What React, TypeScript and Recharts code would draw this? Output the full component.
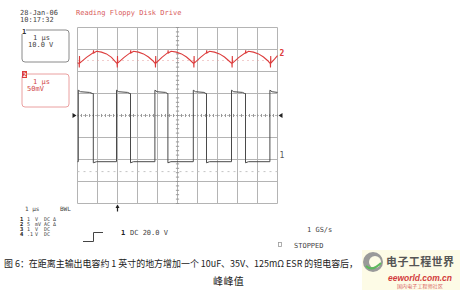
import { Line, LineChart, ReferenceDot, XAxis, YAxis } from "recharts"

// horizontal: 1 µs/div over 10 divisions; vertical: 8 divisions
const timeTicks = [0, 1, 2, 3, 4, 5, 6, 7, 8, 9, 10]
const divTicks = [-4, -3, -2, -1, 1, 2, 3, 4]
const minorTime = Array.from({ length: 51 }, (_, i) => i * 0.2)
const minorDiv = Array.from({ length: 41 }, (_, i) => -4 + i * 0.2)

// channel 1: switch node, 10 V/div
const ch1Time = [
  0, 0.04, 0.04, 0.15, 0.6, 0.75, 0.79, 0.79, 0.95, 1.95,
  1.95, 2.06, 2.5, 2.62, 2.65, 2.65, 2.8, 3.87,
  3.87, 3.98, 4.4, 4.5, 4.52, 4.52, 4.67, 5.79,
  5.79, 5.9, 6.32, 6.42, 6.45, 6.45, 6.6, 7.7,
  7.7, 7.81, 8.25, 8.36, 8.4, 8.4, 8.55, 9.62,
  9.62, 9.73, 10,
]
const ch1Volts = [
  -3, -3, 29.5, 28.8, 28.5, 28, 28, -3.5, -3, -3,
  29.5, 28.8, 28.5, 28, 28, -3.5, -3, -3,
  29.5, 28.8, 28.5, 28, 28, -3.5, -3, -3,
  29.5, 28.8, 28.5, 28, 28, -3.5, -3, -3,
  29.5, 28.8, 28.5, 28, 28, -3.5, -3, -3,
  29.5, 28.8, 28.5,
]

// channel 2: output ripple, AC coupled, 50 mV/div
const ch2Time = [
  0, 0.08, 0.09, 0.1, 0.11, 0.45, 0.79, 0.8, 0.81, 0.95, 1.2, 1.45, 1.7, 1.9, 1.98,
  1.99, 2.0, 2.01, 2.33, 2.65, 2.66, 2.67, 2.8, 3.05, 3.3, 3.55, 3.75, 3.89,
  3.9, 3.91, 3.92, 4.22, 4.52, 4.53, 4.54, 4.68, 4.95, 5.2, 5.45, 5.65, 5.81,
  5.82, 5.83, 5.84, 6.15, 6.45, 6.46, 6.47, 6.6, 6.85, 7.1, 7.35, 7.55, 7.72,
  7.73, 7.74, 7.75, 8.07, 8.4, 8.41, 8.42, 8.55, 8.8, 9.05, 9.3, 9.5, 9.64,
  9.65, 9.66, 9.67, 9.85, 10,
]
const ch2Millivolts = [
  -5, -7, -16, 10, -6, 7, 18, 23, 17, 21, 19, 15, 7, -3, -7,
  -16, 10, -6, 7, 18, 23, 17, 21, 19, 15, 8, 0, -7,
  -16, 10, -6, 7, 18, 23, 17, 21, 19, 15, 8, 0, -7,
  -16, 10, -6, 7, 18, 23, 17, 21, 19, 15, 8, 0, -7,
  -16, 10, -6, 7, 18, 23, 17, 21, 19, 15, 8, 0, -7,
  -16, 10, -6, 3, 11,
]

const channelRows = [
  ["1", "1", "V", "DC", "Δ"],
  ["2", "5", "mV", "AC", "Δ"],
  ["3", "1", "V", "DC", ""],
  ["4", ".1", "V", "DC", ""],
]

const ch1Data = ch1Time.map((t, i) => ({ t, v: ch1Volts[i] }))
const ch2Data = ch2Time.map((t, i) => ({ t, mv: ch2Millivolts[i] }))

// graticule drawn as broken polylines on the division axis (null breaks the path)
const gridV = timeTicks.flatMap((t) => [{ t, gv: -4 }, { t, gv: 4 }, { t, gv: null }])
const gridH = divTicks.flatMap((gh) => [{ t: 0, gh }, { t: 10, gh }, { t: 10, gh: null }])
const centreH = [{ t: 0, c: 0 }, { t: 10, c: 0 }]
const minorH = minorTime.flatMap((t) => [{ t, mh: -0.07 }, { t, mh: 0.07 }, { t, mh: null }])
const minorV = minorDiv.flatMap((mv2) => [{ t: 4.92, mv2 }, { t: 5.08, mv2 }, { t: 5.08, mv2: null }])
const refCh3 = [{ t: 0, r3: -2.55 }, { t: 10, r3: -2.55 }]
const refCh2 = [{ t: 0, r2: 0 }, { t: 10, r2: 0 }]

const MONO = "DejaVu Sans Mono"
const CJK = "Noto Sans CJK SC"
const GRID = "#b4b4b4"
const RED = "#dc3c3c"

function ScopeText() {
  const t = { fontFamily: MONO, fontSize: 7, fill: "#444" }
  const s = { fontFamily: MONO, fontSize: 5, fill: "#444" }
  return (
    <svg width={460} height={292} style={{ position: "absolute", left: 0, top: 0 }}>
      <text x={20} y={15} {...t}>28-Jan-06</text>
      <text x={20} y={22} {...t}>10:17:32</text>
      <text x={76} y={15} {...t} fill="#d85a5a">Reading Floppy Disk Drive</text>

      {/* channel 1 box */}
      <rect x={22} y={30} width={47} height={32} rx={3} fill="none" stroke="#8a8a8a" />
      <rect x={21} y={28} width={5} height={6} fill="#fff" />
      <text x={22} y={34} {...t} fill="#333" fontWeight="bold">1</text>
      <text x={33} y={40} {...t}>1 μs</text>
      <text x={28} y={47} {...t}>10.0 V</text>

      {/* channel 2 box */}
      <rect x={22} y={74} width={47} height={33} rx={3} fill="none" stroke="#eaa0a0" />
      <rect x={22} y={71} width={5} height={7} fill={RED} />
      <text x={23} y={77} fontFamily={MONO} fontSize={6} fill="#fff" fontWeight="bold">2</text>
      <text x={33} y={84} {...t} fill="#d04848">1 μs</text>
      <text x={27} y={91} {...t} fill="#d04848">50mV</text>

      {/* acquisition summary */}
      <text x={25} y={211} fontFamily={MONO} fontSize={6} fill="#444">1 μs</text>
      <text x={60} y={211} fontFamily={MONO} fontSize={6} fill="#444">BWL</text>
      {channelRows.map((row, i) => (
        <g key={row[0]}>
          <text x={20} y={221 + i * 5} {...s} fontSize={5.5} fontWeight="bold" fill="#222">{row[0]}</text>
          <text x={27} y={221 + i * 5} {...s}>{row[1]}</text>
          <text x={35} y={221 + i * 5} {...s}>{row[2]}</text>
          <text x={44} y={221 + i * 5} {...s}>{row[3]}</text>
          <text x={53} y={221 + i * 5} {...s}>{row[4]}</text>
        </g>
      ))}
      <path d="M83 241.5 H93.5 V232.5 H103" fill="none" stroke="#444" strokeWidth={1} />
      <text x={121} y={235} {...t} fontWeight="bold" fill="#222">1</text>
      <text x={130} y={235} {...t}>DC 20.0 V</text>
      <text x={307} y={232} {...t}>1 GS/s</text>
      <rect x={278.5} y={242.5} width={3} height={4} fill="none" stroke="#999" strokeWidth={0.8} />
      <text x={294} y={248} {...t}>STOPPED</text>

      {/* caption */}
      <text x={4} y={267} fontFamily={CJK} fontSize={9.6} textLength={354} lengthAdjust="spacingAndGlyphs" fill="#222">
        图 6：在距离主输出电容约 1 英寸的地方增加一个 10uF、35V、125mΩ ESR 的钽电容后，
      </text>
      <text x={213} y={285} fontFamily={CJK} fontSize={10} letterSpacing={0.4} fill="#222">峰峰值</text>

      {/* site mark */}
      <rect x={362} y={250} width={98} height={40} fill="#fdfbe6" />
      <circle cx={373} cy={262} r={10} fill="#9a9a9a" />
      <circle cx={375} cy={262} r={6} fill="#fdfbe6" />
      <path d="M366 266 Q372 272 381 263" fill="none" stroke="#5cb85c" strokeWidth={2} />
      <text x={386} y={266} fontFamily={CJK} fontSize={11} fontWeight="bold" fill="#555" textLength={68}>电子工程世界</text>
      <text x={388} y={281} fontFamily="Liberation Sans" fontSize={9.5} fontStyle="italic" fontWeight="bold"
        fill="#d23c3c" textLength={64} lengthAdjust="spacingAndGlyphs">
        eeworld.com.cn
      </text>
      <text x={397} y={288} fontFamily={CJK} fontSize={5} fill="#d86060" textLength={46}>国内电子工程师社区</text>
    </svg>
  )
}

export default function App() {
  return (
    <div style={{ position: "absolute", left: 0, top: 0, width: 460, height: 292, background: "#fff" }}>
      <LineChart width={460} height={292} margin={{ top: 27.5, right: 182.5, bottom: 88.5, left: 77.5 }}>
        <XAxis dataKey="t" type="number" domain={[0, 10]} ticks={timeTicks} hide />
        <YAxis yAxisId="div" type="number" domain={[-4, 4]} ticks={divTicks} hide />
        <YAxis yAxisId="ch1" type="number" domain={[-22, 58]} hide />
        <YAxis yAxisId="ch2" type="number" domain={[-325, 75]} hide />

        {/* graticule */}
        <Line yAxisId="div" data={gridV} dataKey="gv" stroke={GRID} strokeWidth={1} dot={false} isAnimationActive={false} />
        <Line yAxisId="div" data={gridH} dataKey="gh" stroke={GRID} strokeWidth={1} dot={false} isAnimationActive={false} />
        <Line yAxisId="div" data={centreH} dataKey="c" stroke="#777" strokeWidth={1} strokeDasharray="1 2" dot={false} isAnimationActive={false} />
        <Line yAxisId="div" data={minorH} dataKey="mh" stroke="#999" strokeWidth={1} dot={false} isAnimationActive={false} />
        <Line yAxisId="div" data={minorV} dataKey="mv2" stroke="#999" strokeWidth={1} dot={false} isAnimationActive={false} />
        <Line yAxisId="div" data={refCh3} dataKey="r3" stroke="#c4c4c4" strokeWidth={1} strokeDasharray="2 4" dot={false} isAnimationActive={false} />
        <Line yAxisId="ch2" data={refCh2} dataKey="r2" stroke="#e49a9a" strokeWidth={1} strokeDasharray="1 4" dot={false} isAnimationActive={false} />

        <Line yAxisId="ch1" data={ch1Data} dataKey="v" type="linear" stroke="#4a4a4a" strokeWidth={1}
          dot={false} isAnimationActive={false} />
        <Line yAxisId="ch2" data={ch2Data} dataKey="mv" type="linear" stroke={RED} strokeWidth={1.1}
          dot={false} isAnimationActive={false} />

        {/* trigger level arrows */}
        <ReferenceDot yAxisId="div" x={0} y={0} ifOverflow="visible"
          shape={(p: any) => <path d={`M${p.cx - 5} ${p.cy - 2.5} L${p.cx - 1} ${p.cy} L${p.cx - 5} ${p.cy + 2.5} Z`} fill="#222" />} />
        <ReferenceDot yAxisId="div" x={10} y={0} ifOverflow="visible"
          shape={(p: any) => <path d={`M${p.cx + 5} ${p.cy - 2.5} L${p.cx + 1} ${p.cy} L${p.cx + 5} ${p.cy + 2.5} Z`} fill="#222" />} />
        {/* trigger position */}
        <ReferenceDot yAxisId="div" x={2} y={-4} ifOverflow="visible"
          shape={(p: any) => (
            <g>
              <line x1={p.cx} y1={p.cy + 2} x2={p.cx} y2={p.cy + 8} stroke="#222" strokeWidth={1.2} />
              <path d={`M${p.cx - 2} ${p.cy + 4.5} L${p.cx} ${p.cy + 1} L${p.cx + 2} ${p.cy + 4.5} Z`} fill="#222" />
            </g>
          )} />
        {/* channel ground markers */}
        <ReferenceDot yAxisId="ch1" x={10} y={0} ifOverflow="visible"
          shape={(p: any) => <text x={p.cx + 2} y={p.cy + 3} fontFamily={MONO} fontSize={8} fill="#555">1</text>} />
        <ReferenceDot yAxisId="ch2" x={10} y={0} ifOverflow="visible"
          shape={(p: any) => <text x={p.cx + 2} y={p.cy - 5} fontFamily={MONO} fontSize={8} fontWeight="bold" fill={RED}>2</text>} />
      </LineChart>
      <ScopeText />
    </div>
  )
}
